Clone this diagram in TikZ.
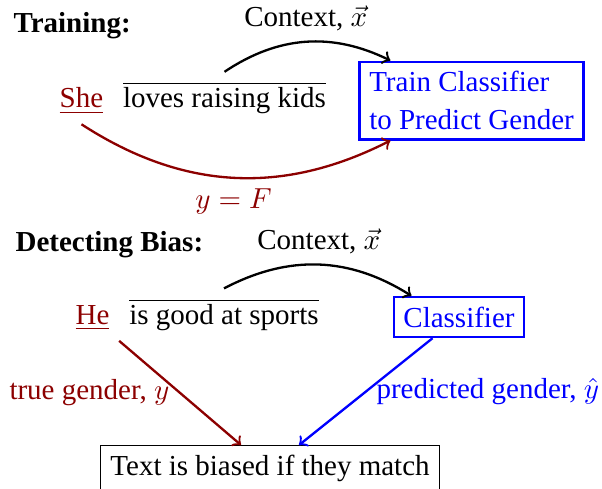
\documentclass[tikz,border=0pt]{standalone}
\usepackage{fontspec}
\setmainfont{Liberation Serif}
\usepackage{amsmath}
\usetikzlibrary{arrows}
\definecolor{darkred}{rgb}{0.55,0,0}

\begin{document}
\begin{tikzpicture}[auto,color=black,
	sent/.style={anchor=base},
	gnd/.style={color=darkred},
	clfbox/.style={draw=blue,text=blue,thick,align=left},
	head/.style={anchor=base west,inner sep=0pt,font=\bfseries}]
\useasboundingbox (0,0) rectangle (7.299,5.917);

% training
\node[head] (train) at (0.158,5.529) {Training:};
\node[sent,gnd] (she) at (0.988,4.608) {\underline{She}};
\node[sent] (ctxa) at (2.722,4.608) {$\overline{\text{loves raising kids}}$};
\node[clfbox] (clfa) at (5.717,4.698) {Train Classifier\\[1pt]to Predict Gender};
\draw[->,thick] (ctxa.north) to[bend left] node[above] {Context, $\vec{x}$} ([xshift=11pt]clfa.north west);
\draw[->,thick,gnd] (she.south) to[bend right] node[below] {$y=F$} ([xshift=11pt]clfa.south west);

% detecting bias
\node[head] (detect) at (0.182,2.862) {Detecting Bias:};
\node[sent,gnd] (he) at (1.122,1.982) {\underline{He}};
\node[sent] (ctxb) at (2.716,1.982) {$\overline{\text{is good at sports}}$};
\node[clfbox] (clfb) at (5.565,2.073) {Classifier};
\node[draw,anchor=north] (res) at (3.274,0.521) {Text is biased if they match};
\draw[->,thick] (ctxb.north) to[bend left] node[above] {Context, $\vec{x}$} ([xshift=6.5pt]clfb.north west);
\draw[->,thick,gnd] (he) -- node[left] {true gender, $y$} ([xshift=-10pt]res.north);
\draw[->,thick,blue] (clfb) -- node[right] {predicted gender, $\hat{y}$} ([xshift=10pt]res.north);
\end{tikzpicture}
\end{document}
